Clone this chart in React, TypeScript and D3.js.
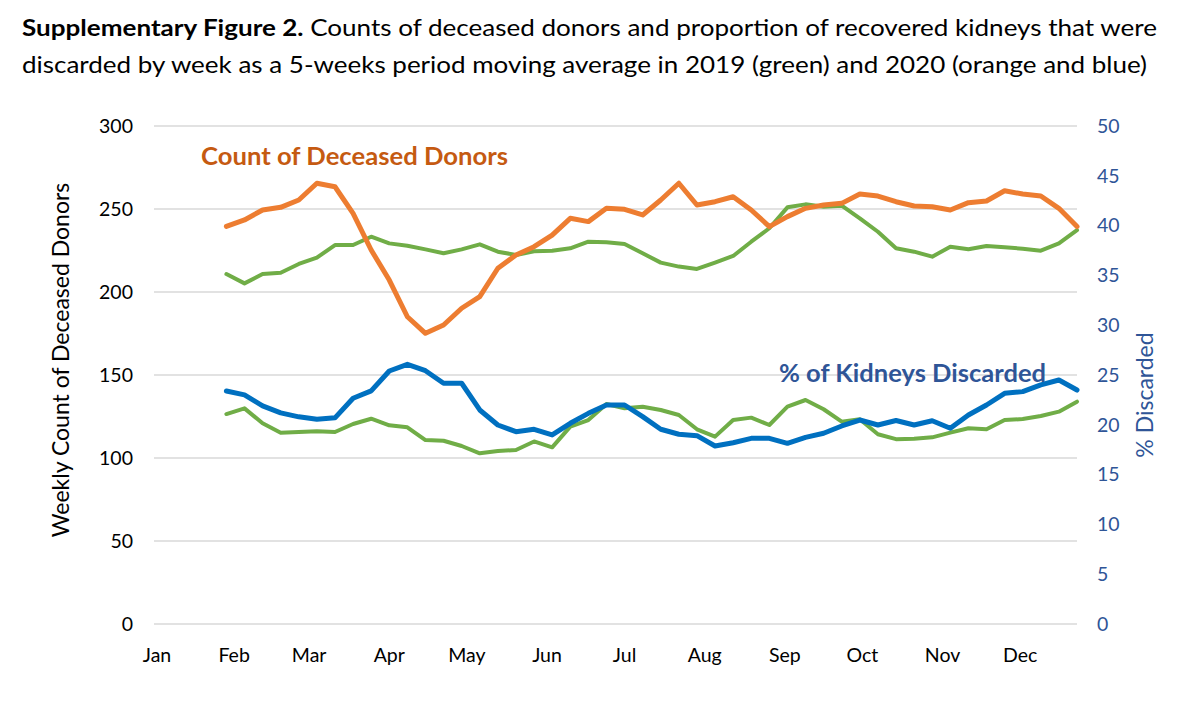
import React, { useEffect, useRef } from "react";
import * as d3 from "d3";

// ---- Data ----
const weeks: number[] = d3.range(5, 53); // week numbers 5..52 (5-week moving averages)

const donors2020: number[] = [
  239.5, 243.4, 249.4, 251.0, 255.4, 265.5, 263.4, 247.4, 225.3, 207.2,
  185.1, 175.1, 180.1, 190.2, 197.2, 214.3, 222.3, 227.3, 234.3, 244.4,
  242.4, 250.4, 249.8, 246.4, 255.4, 265.5, 252.4, 254.4, 257.4, 249.4,
  239.4, 245.4, 250.4, 252.4, 253.4, 259.0, 257.8, 254.4, 251.8, 251.4,
  249.4, 253.8, 254.8, 261.0, 259.0, 257.8, 250.4, 239.4,
];

const donors2019: number[] = [
  210.8, 205.2, 210.8, 211.6, 216.9, 220.7, 228.3, 228.3, 233.3, 229.3,
  227.9, 225.7, 223.3, 225.7, 228.7, 224.3, 222.3, 224.5, 224.9, 226.3,
  230.3, 229.9, 228.9, 223.3, 217.7, 215.3, 213.9, 217.7, 221.7, 230.3,
  238.4, 251.0, 252.8, 251.4, 252.0, 244.4, 236.3, 226.3, 224.3, 221.3,
  227.3, 225.7, 227.7, 226.9, 226.1, 224.9, 229.3, 237.3,
];

const discarded2020: number[] = [
  23.4, 23.0, 21.9, 21.2, 20.8, 20.55, 20.7, 22.66, 23.4, 25.4,
  26.07, 25.43, 24.17, 24.17, 21.49, 19.98, 19.31, 19.55, 18.98, 20.15,
  21.15, 21.99, 21.99, 20.82, 19.55, 19.05, 18.91, 17.87, 18.2, 18.64,
  18.64, 18.14, 18.74, 19.15, 19.88, 20.48, 19.98, 20.43, 19.98, 20.41,
  19.65, 20.98, 21.99, 23.16, 23.33, 24.0, 24.5, 23.49,
];

const discarded2019: number[] = [
  21.08, 21.65, 20.15, 19.21, 19.28, 19.35, 19.28, 20.08, 20.61, 19.95,
  19.75, 18.47, 18.4, 17.87, 17.14, 17.37, 17.47, 18.33, 17.74, 19.81,
  20.48, 22.09, 21.65, 21.82, 21.49, 20.98, 19.55, 18.81, 20.48, 20.72,
  19.98, 21.82, 22.49, 21.56, 20.31, 20.55, 19.05, 18.56, 18.61, 18.74,
  19.21, 19.65, 19.55, 20.48, 20.58, 20.88, 21.32, 22.32,
];

const monthLabels: string[] = ["Jan", "Feb", "Mar", "Apr", "May", "Jun", "Jul", "Aug", "Sep", "Oct", "Nov", "Dec"];
const leftTicks: number[] = [0, 50, 100, 150, 200, 250, 300];
const rightTicks: number[] = [0, 5, 10, 15, 20, 25, 30, 35, 40, 45, 50];

const titleLine1Bold = "Supplementary Figure 2.";
const titleLine1Rest = " Counts of deceased donors and proportion of recovered kidneys that were";
const titleLine2 = "discarded by week as a 5-weeks period moving average in 2019 (green) and 2020 (orange and blue)";

const COLORS = {
  orange: "#ED7D31",
  green: "#70AD47",
  blue: "#0070C0",
  orangeText: "#C55A11",
  blueText: "#2F5597",
  grid: "#D9D9D9",
};

const FONT = "Lato, 'Open Sans', 'Liberation Sans', sans-serif";

export default function App() {
  const ref = useRef<SVGSVGElement | null>(null);

  useEffect(() => {
    const svg = d3.select(ref.current);
    svg.selectAll("*").remove();

    const W = 1200, H = 724;
    const left = 154, right = 1077, top = 126, bottom = 624;

    const start = new Date(2020, 0, 1);
    const dateOf = (w: number) => d3.timeDay.offset(start, (w - 1) * 7);
    const x = d3.scaleTime().domain([start, dateOf(52)]).range([left, right]);
    const yL = d3.scaleLinear().domain([0, 300]).range([bottom, top]);
    const yR = d3.scaleLinear().domain([0, 50]).range([bottom, top]);

    svg.append("rect").attr("width", W).attr("height", H).attr("fill", "#fff");

    // Title
    const t1 = svg.append("text")
      .attr("x", 22).attr("y", 36)
      .attr("font-family", FONT).attr("font-size", 23).attr("fill", "#000")
      .attr("textLength", 1135).attr("lengthAdjust", "spacingAndGlyphs");
    t1.append("tspan").attr("font-weight", "bold").text(titleLine1Bold);
    t1.append("tspan").text(titleLine1Rest);
    svg.append("text")
      .attr("x", 22).attr("y", 73)
      .attr("font-family", FONT).attr("font-size", 23).attr("fill", "#000")
      .attr("textLength", 1125).attr("lengthAdjust", "spacingAndGlyphs")
      .text(titleLine2);

    // Gridlines
    svg.append("g").selectAll("line").data(leftTicks).join("line")
      .attr("x1", left).attr("x2", right)
      .attr("y1", (d) => yL(d)).attr("y2", (d) => yL(d))
      .attr("stroke", COLORS.grid).attr("stroke-width", 1.3);

    // Left tick labels
    svg.append("g").selectAll("text").data(leftTicks).join("text")
      .attr("x", 133).attr("y", (d) => yL(d)).attr("dy", "0.35em")
      .attr("text-anchor", "end").attr("font-family", FONT).attr("font-size", 19.5)
      .attr("fill", "#000").text((d) => d);

    // Right tick labels
    svg.append("g").selectAll("text").data(rightTicks).join("text")
      .attr("x", 1097).attr("y", (d) => yR(d)).attr("dy", "0.35em")
      .attr("text-anchor", "start").attr("font-family", FONT).attr("font-size", 19.5)
      .attr("fill", COLORS.blueText).text((d) => d);

    // Month labels
    svg.append("g").selectAll("text").data(monthLabels).join("text")
      .attr("x", (_d, i) => x(new Date(2020, i, 1)) + (i === 0 ? 3 : 0)).attr("y", 662)
      .attr("text-anchor", "middle").attr("font-family", FONT).attr("font-size", 19.5)
      .attr("fill", "#000").text((d) => d);

    // Axis titles
    svg.append("text")
      .attr("transform", `translate(69,360) rotate(-90)`)
      .attr("text-anchor", "middle").attr("font-family", FONT).attr("font-size", 23)
      .attr("fill", "#000").text("Weekly Count of Deceased Donors");
    svg.append("text")
      .attr("transform", `translate(1153,395) rotate(-90)`)
      .attr("text-anchor", "middle").attr("font-family", FONT).attr("font-size", 23)
      .attr("fill", COLORS.blueText).text("% Discarded");

    // Lines
    const lineL = d3.line<number>().x((_d, i) => x(dateOf(weeks[i]))).y((d) => yL(d));
    const lineR = d3.line<number>().x((_d, i) => x(dateOf(weeks[i]))).y((d) => yR(d));

    const series = [
      { data: discarded2019, gen: lineR, color: COLORS.green, w: 4 },
      { data: discarded2020, gen: lineR, color: COLORS.blue, w: 5 },
      { data: donors2019, gen: lineL, color: COLORS.green, w: 4 },
      { data: donors2020, gen: lineL, color: COLORS.orange, w: 5 },
    ];
    series.forEach((s) => {
      svg.append("path")
        .attr("d", s.gen(s.data) as string)
        .attr("fill", "none").attr("stroke", s.color)
        .attr("stroke-width", s.w).attr("stroke-linejoin", "round").attr("stroke-linecap", "round");
    });

    // Annotations
    svg.append("text")
      .attr("x", 201).attr("y", 165)
      .attr("font-family", FONT).attr("font-size", 25).attr("font-weight", "bold")
      .attr("fill", COLORS.orangeText)
      .attr("textLength", 307).attr("lengthAdjust", "spacingAndGlyphs")
      .text("Count of Deceased Donors");
    svg.append("text")
      .attr("x", 779).attr("y", 382)
      .attr("font-family", FONT).attr("font-size", 25).attr("font-weight", "bold")
      .attr("fill", COLORS.blueText)
      .attr("textLength", 267).attr("lengthAdjust", "spacingAndGlyphs")
      .text("% of Kidneys Discarded");
  }, []);

  return (
    <svg ref={ref} width={1200} height={724}
      style={{ position: "absolute", left: 0, top: 0, display: "block" }} />
  );
}
